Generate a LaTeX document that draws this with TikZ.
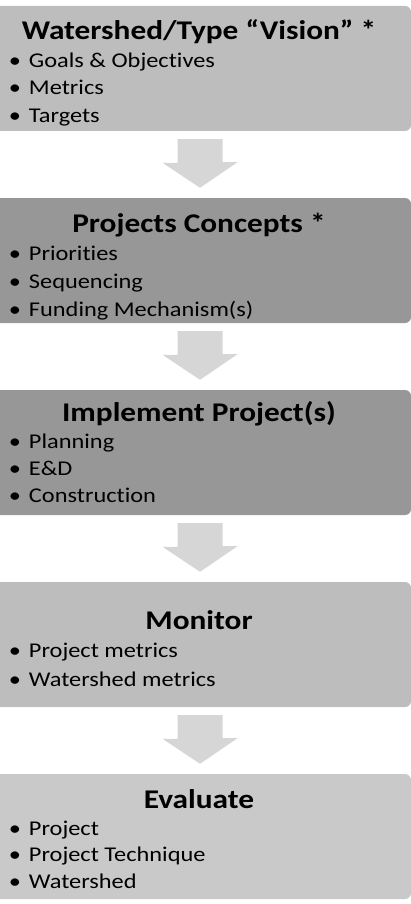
\documentclass[tikz,border=0pt]{standalone}
\usepackage{fontspec}
\setmainfont[FakeStretch=1.16,Ligatures=NoCommon]{Carlito}
\usetikzlibrary{calc}

\definecolor{lightbox}{HTML}{BDBDBD}
\definecolor{darkbox}{HTML}{979797}
\definecolor{palebox}{HTML}{C9C9C9}
\definecolor{arrowgray}{HTML}{D6D6D6}

\begin{document}
\begin{tikzpicture}
  [x=1pt,y=-1pt,
   panel/.style={rectangle,rounded corners=6pt,fill=#1,inner sep=0,
                 minimum width=422pt,minimum height=125pt},
   title/.style={anchor=base,inner sep=0,font=\bfseries\fontsize{27}{30}\selectfont},
   item/.style={anchor=base west,inner sep=0,font=\fontsize{21}{25}\selectfont}]
  \useasboundingbox (0,0) rectangle (411,904);
  \clip (0,0) rectangle (411,904);

  \node[panel=lightbox] (vision) at (200,68.5) {};
  \node[panel=darkbox] (concepts) at (200,260.5) {};
  \node[panel=darkbox] (implement) at (200,452.5) {};
  \node[panel=lightbox] (monitor) at (200,644.5) {};
  \node[panel=palebox] (evaluate) at (200,836.5) {};

  % titles
  \node[title] (t1) at ($(vision.north)+(-1,34)$) {Watershed/Type “Vision” *};
  \node[title] (t2) at ($(concepts.north)+(-1,35)$) {Projects Concepts *};
  \node[title] (t3) at ($(implement.north)+(-1,32)$) {Implement Project(s)};
  \node[title] (t4) at ($(monitor.north)+(-1,48)$) {Monitor};
  \node[title] (t5) at ($(evaluate.north)+(-1,35)$) {Evaluate};

  % bullet lists
  \foreach \txt [count=\i] in {Goals \& Objectives,Metrics,Targets}
    \node[item] at ($(vision.north west)+(20,34+27.5*\i)$) {\makebox[20pt][l]{\textbullet}\txt};
  \foreach \txt [count=\i] in {Priorities,Sequencing,Funding Mechanism(s)}
    \node[item] at ($(concepts.north west)+(20,35+28*\i)$) {\makebox[20pt][l]{\textbullet}\txt};
  \foreach \txt [count=\i] in {Planning,E\&D,Construction}
    \node[item] at ($(implement.north west)+(20,32+27*\i)$) {\makebox[20pt][l]{\textbullet}\txt};
  \foreach \txt [count=\i] in {Project metrics,Watershed metrics}
    \node[item] at ($(monitor.north west)+(20,47+29*\i)$) {\makebox[20pt][l]{\textbullet}\txt};
  \foreach \txt [count=\i] in {Project,Project Technique,Watershed}
    \node[item] at ($(evaluate.north west)+(20,35+26.5*\i)$) {\makebox[20pt][l]{\textbullet}\txt};

  % block arrows between the steps
  \foreach \from/\to in {vision/concepts,concepts/implement,implement/monitor,monitor/evaluate}
    \fill[arrowgray] ($(\from.south)+(-22.5,8)$) -- ++(45,0) -- ++(0,23) -- ++(15,0)
      -- ($(\to.north)+(0,-10)$) -- ++(-37.5,-25) -- ++(15,0) -- cycle;
\end{tikzpicture}
\end{document}
